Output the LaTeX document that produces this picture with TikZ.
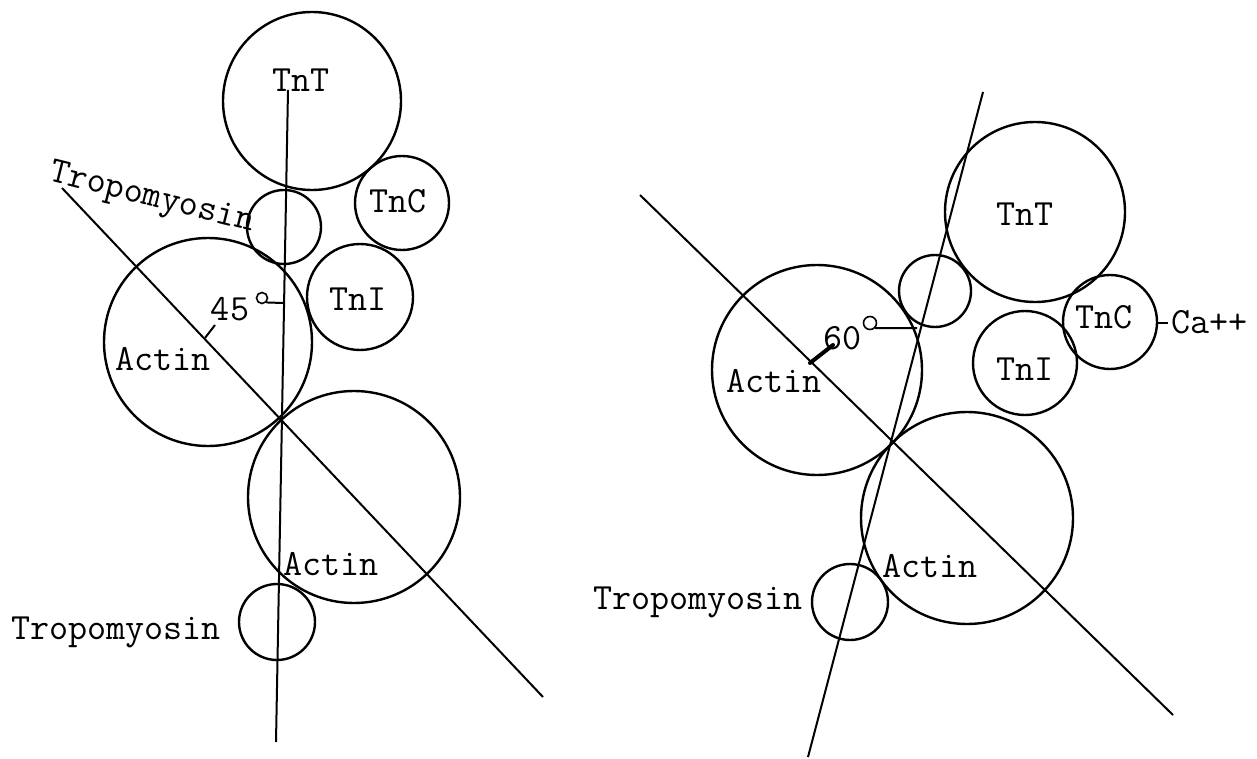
\documentclass[tikz,border=0pt]{standalone}
\begin{document}
\begin{tikzpicture}[x=0.5pt,y=-0.5pt,
  ring/.style={circle,draw,line width=1.2pt,inner sep=0pt},
  axisline/.style={line width=1pt},
  lbl/.style={font=\ttfamily\fontsize{18.5}{21}\selectfont,inner sep=0pt,anchor=base},
  degree/.style={circle,draw,line width=0.8pt,inner sep=0pt},
]
\useasboundingbox (0,0) rectangle (1257,759);
% ---------- left diagram ----------
\node[ring,minimum size=89pt]  (tntL) at (312,101) {};
\node[ring,minimum size=37pt]  (tmL1) at (284,227) {};
\node[ring,minimum size=47pt]  (tncL) at (402,203) {};
\node[ring,minimum size=53pt]  (tniL) at (360,297) {};
\node[ring,minimum size=104pt] (acL1) at (208,342) {};
\node[ring,minimum size=106pt] (acL2) at (354,497) {};
\node[ring,minimum size=38pt]  (tmL2) at (277,622) {};
\coordinate (vTopL) at (288,90);
\coordinate (vBotL) at (276,742);
\coordinate (dTopL) at (62,188);
\coordinate (dBotL) at (543,697);
\draw[axisline] (vTopL) -- (vBotL);
\draw[axisline] (dTopL) -- (dBotL);
\node[lbl] (tL1) at (301,92) {TnT};
\node[lbl] (tL2) at (398,213) {TnC};
\node[lbl] (tL3) at (358,310) {TnI};
\node[lbl] (tL4) at (163,370) {Actin};
\node[lbl,anchor=base west] (tL5) at (283,575) {Actin};
\node[lbl,anchor=base west] (tL6) at (11,639) {Tropomyosin};
\node[lbl,rotate=-14] (tL7) at (150,206) {Tropomyosin};
\node[lbl] (tL8) at (230,320) {45};
\node[degree,minimum size=5.5pt] (degL) at (262,298) {};
\coordinate (degLend) at (283,303);
\draw[line width=1pt] (degL.south east) -- (degLend);
\coordinate (tickLa) at (205,338);
\coordinate (tickLb) at (215,325);
\draw[line width=1pt] (tickLa) -- (tickLb);
% ---------- right diagram ----------
\node[ring,minimum size=90pt]  (tntR) at (1035,212) {};
\node[ring,minimum size=36pt]  (tmR1) at (935,291) {};
\node[ring,minimum size=47pt]  (tncR) at (1110,322) {};
\node[ring,minimum size=52pt]  (tniR) at (1025,363) {};
\node[ring,minimum size=105pt] (acR1) at (817,370) {};
\node[ring,minimum size=106pt] (acR2) at (967,518) {};
\node[ring,minimum size=38pt]  (tmR2) at (850,602) {};
\coordinate (vTopR) at (983,92);
\coordinate (vBotR) at (808,757);
\coordinate (dTopR) at (640,195);
\coordinate (dBotR) at (1173,715);
\draw[axisline] (vTopR) -- (vBotR);
\draw[axisline] (dTopR) -- (dBotR);
\node[lbl] (tR1) at (1025,226) {TnT};
\node[lbl] (tR2) at (1104,328) {TnC};
\node[lbl] (tR3) at (1025,380) {TnI};
\node[lbl] (tR4) at (774,392) {Actin};
\node[lbl,anchor=base west] (tR5) at (882,577) {Actin};
\node[lbl,anchor=base east] (tR6) at (803,609) {Tropomyosin};
\node[lbl] (tR7) at (843,349) {60};
\node[lbl,anchor=base west] (tR8) at (1171,333) {Ca++};
\node[degree,minimum size=6.5pt] (degR) at (870,323) {};
\coordinate (degRend) at (917,328);
\draw[line width=1pt] (degR.south east) -- (degRend);
\coordinate (tickRa) at (810,363);
\coordinate (tickRb) at (833,345);
\draw[line width=2pt,line cap=round] (tickRa) -- (tickRb);
\coordinate (caA) at (1157,323);
\coordinate (caB) at (1168,323);
\draw[line width=1pt] (caA) -- (caB);
\end{tikzpicture}
\end{document}
